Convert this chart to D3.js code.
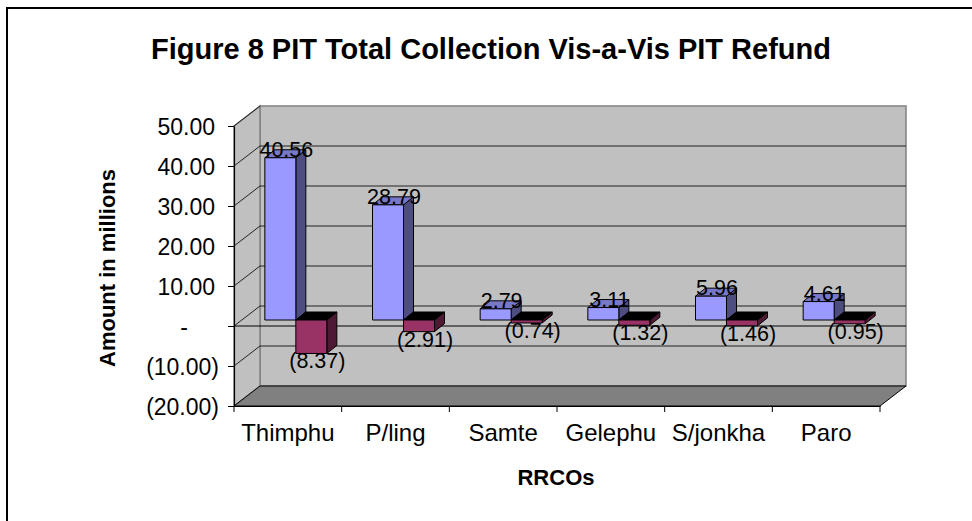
<!DOCTYPE html>
<html>
<head>
<meta charset="utf-8">
<script src="https://cdn.jsdelivr.net/npm/d3@7"></script>
<style>
  body { margin: 0; background: #fff; }
  svg { display: block; font-family: "Liberation Sans", Arial, sans-serif; }
</style>
</head>
<body>
<div id="chart"></div>
<script>
// data
const categories = ["Thimphu", "P/ling", "Samte", "Gelephu", "S/jonkha", "Paro"];
const collection = [40.56, 28.79, 2.79, 3.11, 5.96, 4.61];
const refund = [-8.37, -2.91, -0.74, -1.32, -1.46, -0.95];
const seriesNames = ["PIT Total Collection", "PIT Refund"];
const yTicks = [-20, -10, 0, 10, 20, 30, 40, 50];

const width = 972, height = 521;
const svg = d3.select("#chart").append("svg")
  .attr("width", width)
  .attr("height", height);

// outer frame (runs off the right and bottom edge like the original)
svg.append("rect")
  .attr("x", 7).attr("y", 8)
  .attr("width", 1000).attr("height", 600)
  .attr("fill", "none")
  .attr("stroke", "#000")
  .attr("stroke-width", 2);

svg.append("text")
  .attr("x", 491).attr("y", 59)
  .attr("text-anchor", "middle")
  .style("font-size", "29px")
  .style("font-weight", "bold")
  .text("Figure 8 PIT Total Collection Vis-a-Vis PIT Refund");

// front plane scales
const x = d3.scaleBand().domain(categories).range([234, 880]);
const y = d3.scaleLinear().domain([-20, 50]).range([406, 126]);

// 3d offsets: walls, bar plane, bar depth
const wall = { dx: 26, dy: -20 };
const plane = { dx: 8, dy: -6 };
const depth = { dx: 10, dy: -8 };

const poly = pts => "M" + pts.map(p => p.join(",")).join("L") + "Z";

const x0 = x.range()[0], x1 = x.range()[1];
const yTop = y(d3.max(yTicks)), yBot = y(d3.min(yTicks));

// back wall
svg.append("path")
  .attr("d", poly([[x0 + wall.dx, yTop + wall.dy], [x1 + wall.dx, yTop + wall.dy],
                   [x1 + wall.dx, yBot + wall.dy], [x0 + wall.dx, yBot + wall.dy]]))
  .attr("fill", "#c0c0c0")
  .attr("stroke", "#808080")
  .attr("stroke-width", 1.5);

// side wall
svg.append("path")
  .attr("d", poly([[x0, yTop], [x0 + wall.dx, yTop + wall.dy],
                   [x0 + wall.dx, yBot + wall.dy], [x0, yBot]]))
  .attr("fill", "#c0c0c0")
  .attr("stroke", "#808080")
  .attr("stroke-width", 1.5);

// floor
svg.append("path")
  .attr("d", poly([[x0, yBot], [x0 + wall.dx, yBot + wall.dy],
                   [x1 + wall.dx, yBot + wall.dy], [x1, yBot]]))
  .attr("fill", "#808080")
  .attr("stroke", "#000")
  .attr("stroke-width", 1);

// gridlines on the back wall and side wall
const grid = yTicks.filter(t => t > d3.min(yTicks) && t < d3.max(yTicks));
svg.selectAll(".grid")
  .data(grid)
  .enter().append("line")
  .attr("class", "grid")
  .attr("x1", x0 + wall.dx).attr("x2", x1 + wall.dx)
  .attr("y1", d => y(d) + wall.dy).attr("y2", d => y(d) + wall.dy)
  .attr("stroke", "#222")
  .attr("stroke-width", 1);

svg.selectAll(".sidegrid")
  .data(yTicks.filter(t => t > d3.min(yTicks)))
  .enter().append("line")
  .attr("class", "sidegrid")
  .attr("x1", x0).attr("y1", d => y(d))
  .attr("x2", x0 + wall.dx).attr("y2", d => y(d) + wall.dy)
  .attr("stroke", "#222")
  .attr("stroke-width", 1);

// zero line
svg.append("line")
  .attr("x1", x0).attr("x2", x1 + wall.dx)
  .attr("y1", y(0)).attr("y2", y(0))
  .attr("stroke", "#000")
  .attr("stroke-width", 1.2);

// bars
const groupW = 62;
const xs = d3.scaleBand().domain(seriesNames).range([0, groupW]);
const colors = {
  "PIT Total Collection": { front: "#9999ff", side: "#4d4d80", top: "#7878c8" },
  "PIT Refund": { front: "#993366", side: "#4d1933", top: "#000000" }
};

const bars = [];
categories.forEach((c, i) => {
  bars.push({ cat: c, s: seriesNames[0], v: collection[i] });
  bars.push({ cat: c, s: seriesNames[1], v: refund[i] });
});

const gOff = (x.bandwidth() - groupW) / 2;
bars.forEach(b => {
  const bx = x(b.cat) + gOff + xs(b.s) + plane.dx;
  const w = xs.bandwidth();
  const yt = y(Math.max(b.v, 0)) + plane.dy;
  const yb = y(Math.min(b.v, 0)) + plane.dy;
  const col = colors[b.s];
  const g = svg.append("g").attr("stroke", "#000").attr("stroke-width", 1).attr("stroke-linejoin", "round");
  g.append("path")
    .attr("d", poly([[bx + w, yt], [bx + w + depth.dx, yt + depth.dy],
                     [bx + w + depth.dx, yb + depth.dy], [bx + w, yb]]))
    .attr("fill", col.side);
  g.append("path")
    .attr("d", poly([[bx, yt], [bx + depth.dx, yt + depth.dy],
                     [bx + w + depth.dx, yt + depth.dy], [bx + w, yt]]))
    .attr("fill", col.top);
  g.append("rect")
    .attr("x", bx).attr("y", yt)
    .attr("width", w).attr("height", Math.max(yb - yt, 0.5))
    .attr("fill", col.front);
  b.cx = bx + w / 2;
  b.yt = yt; b.yb = yb;
});

// data labels
const fmtLabel = v => v < 0 ? "(" + d3.format(".2f")(-v) + ")" : d3.format(".2f")(v);
svg.selectAll(".dlabel")
  .data(bars)
  .enter().append("text")
  .attr("class", "dlabel")
  .attr("x", d => d.cx + 6)
  .attr("y", d => d.v < 0 ? d.yb + 15 : d.yt - 1)
  .attr("text-anchor", "middle")
  .style("font-size", "21.5px")
  .text(d => fmtLabel(d.v));

// y axis
const yAxis = d3.axisLeft(y).tickValues(yTicks).tickSize(6).tickSizeOuter(0)
  .tickFormat(v => v === 0 ? "-" : fmtLabel(v));
const gy = svg.append("g")
  .attr("transform", `translate(${x0},0)`)
  .call(yAxis);
gy.select(".domain").attr("stroke", "#000").attr("stroke-width", 1.2);
gy.selectAll(".tick line").attr("stroke", "#000");
gy.selectAll(".tick text")
  .attr("x", d => d === 0 ? -46 : (d < 0 ? -15 : -19))
  .attr("dy", "0.36em")
  .style("font-size", "23px")
  .style("font-family", "Liberation Sans, Arial, sans-serif")
  .attr("fill", "#000");

// x axis
const xAxis = d3.axisBottom(x).tickSize(0).tickSizeOuter(0).tickPadding(18);
const gx = svg.append("g")
  .attr("transform", `translate(0,${yBot})`)
  .call(xAxis);
gx.select(".domain").attr("stroke", "#000").attr("stroke-width", 1.2);
gx.selectAll(".tick text")
  .style("font-size", "24px")
  .style("font-family", "Liberation Sans, Arial, sans-serif")
  .attr("fill", "#000");

// tick marks between categories
const bounds = categories.map(c => x(c)).concat([x1]);
svg.selectAll(".xtick")
  .data(bounds)
  .enter().append("line")
  .attr("class", "xtick")
  .attr("x1", d => d).attr("x2", d => d)
  .attr("y1", yBot).attr("y2", yBot + 6)
  .attr("stroke", "#000");

// axis titles
svg.append("text")
  .attr("transform", "translate(115,268) rotate(-90)")
  .attr("text-anchor", "middle")
  .style("font-size", "22px")
  .style("font-weight", "bold")
  .text("Amount in millions");

svg.append("text")
  .attr("x", 556).attr("y", 485)
  .attr("text-anchor", "middle")
  .style("font-size", "22px")
  .style("font-weight", "bold")
  .text("RRCOs");
</script>
</body>
</html>
